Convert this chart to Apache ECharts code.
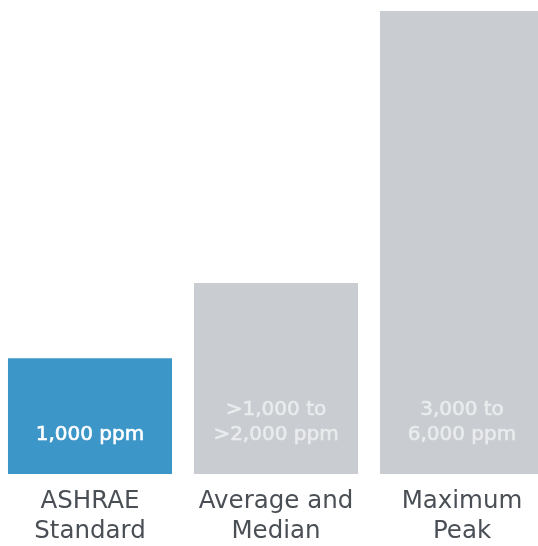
<!DOCTYPE html>
<html>
<head>
<meta charset="utf-8">
<script src="https://cdn.jsdelivr.net/npm/echarts@6/dist/echarts.min.js"></script>
<style>
  html, body { margin: 0; padding: 0; background: #ffffff; }
  #chart { width: 538px; height: 546px; }
</style>
</head>
<body>
<div id="chart"></div>
<script>
// CO2 concentration levels (ppm)
const categories = ['ASHRAE\nStandard', 'Average and\nMedian', 'Maximum\nPeak'];
const values = [1000, 1650, 4000];
const valueLabels = ['1,000 ppm', '>1,000 to\n>2,000 ppm', '3,000 to\n6,000 ppm'];

const barColors = ['#3d96c8', '#c9ccd1', '#c9ccd1'];
const labelColors = ['#ffffff', '#e9ebed', '#e9ebed'];

const chart = echarts.init(document.getElementById('chart'), null, { renderer: 'canvas' });

chart.setOption({
  animation: false,
  grid: { left: -3, width: 558, top: 11, bottom: 72, containLabel: false, outerBoundsMode: 'none' },
  xAxis: {
    type: 'category',
    data: categories,
    axisLine: { show: false },
    axisTick: { show: false },
    axisLabel: {
      margin: 13,
      fontFamily: 'DejaVu Sans',
      fontSize: 24.5,
      lineHeight: 30,
      color: '#4a4f56',
      interval: 0
    }
  },
  yAxis: {
    type: 'value',
    min: 0,
    max: 4000,
    show: false,
    splitLine: { show: false }
  },
  series: [{
    type: 'bar',
    barCategoryGap: '11.8%',
    data: values.map((v, i) => ({
      value: v,
      itemStyle: { color: barColors[i] },
      label: {
        show: true,
        position: 'insideBottom',
        distance: 27,
        formatter: valueLabels[i],
        color: labelColors[i],
        // a hairline outline in the fill colour gives a medium weight
        textBorderColor: labelColors[i],
        textBorderWidth: 0.6,
        fontFamily: 'DejaVu Sans',
        fontSize: 20,
        lineHeight: 25,
        align: 'center'
      }
    }))
  }]
});
</script>
</body>
</html>
